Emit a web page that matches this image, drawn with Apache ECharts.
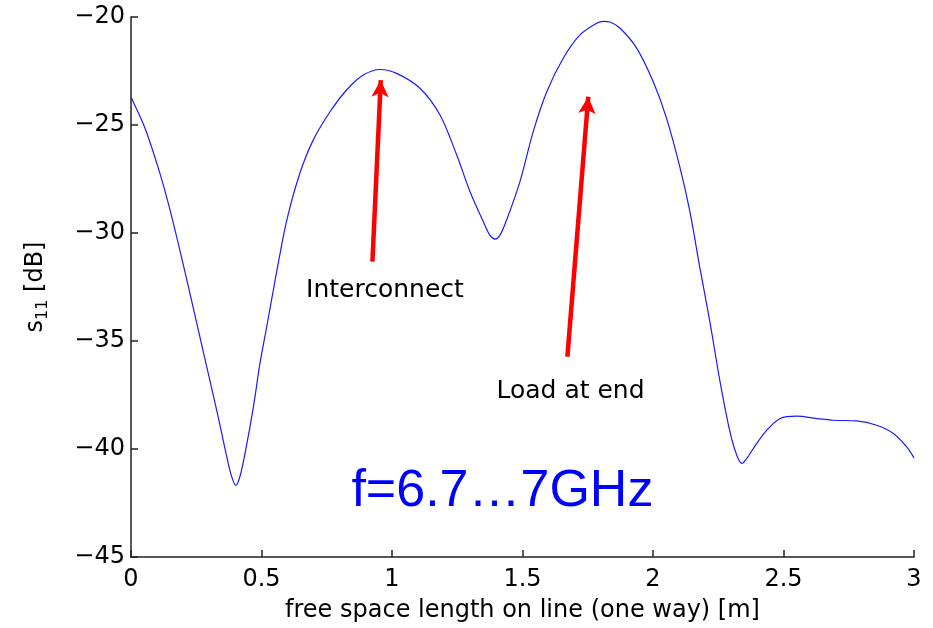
<!DOCTYPE html>
<html>
<head>
<meta charset="utf-8">
<script src="https://cdn.jsdelivr.net/npm/echarts@6/dist/echarts.min.js"></script>
<style>
  html, body { margin: 0; padding: 0; background: #ffffff; }
  #chart { width: 933px; height: 628px; }
</style>
</head>
<body>
<div id="chart"></div>
<script>
// free space length on line [m]
const lengthM = [
  0.000, 0.054, 0.105, 0.143, 0.181, 0.220, 0.258, 0.296, 0.334, 0.367, 0.386, 0.402,
  0.418, 0.437, 0.469, 0.494, 0.520, 0.558, 0.597, 0.648, 0.698, 0.762, 0.826, 0.890,
  0.954, 1.018, 1.107, 1.184, 1.248, 1.299, 1.350, 1.375, 1.395, 1.416, 1.439, 1.490,
  1.541, 1.593, 1.656, 1.720, 1.784, 1.810, 1.835, 1.874, 1.938, 2.001, 2.052, 2.103,
  2.142, 2.180, 2.218, 2.257, 2.295, 2.321, 2.341, 2.359, 2.397, 2.436, 2.487, 2.551,
  2.627, 2.691, 2.780, 2.857, 2.921, 2.972, 3.000
];
// reflection coefficient s11 [dB]
const s11dB = [
  -23.72, -25.16, -27.01, -28.63, -30.48, -32.49, -34.50, -36.50, -38.51, -40.37, -41.29, -41.68,
  -41.25, -40.20, -38.05, -36.04, -34.34, -31.80, -29.40, -27.20, -25.70, -24.40, -23.38, -22.69,
  -22.43, -22.61, -23.30, -24.54, -26.39, -28.09, -29.48, -30.10, -30.28, -30.05, -29.40, -27.63,
  -25.31, -23.46, -21.91, -20.83, -20.29, -20.20, -20.23, -20.52, -21.45, -23.00, -24.69, -26.95,
  -29.05, -31.64, -34.11, -36.89, -39.21, -40.29, -40.67, -40.44, -39.75, -39.13, -38.59, -38.48,
  -38.59, -38.67, -38.70, -38.90, -39.28, -39.90, -40.41
];

// annotation arrows: [x, dB] tail -> tip
const arrowTails = [[0.925, -31.33], [1.672, -35.73]];
const arrowTips  = [[0.957, -22.92], [1.752, -23.69]];

// annotation texts and their anchor points
const noteTexts  = ['Interconnect', 'Load at end'];
const notePoints = [[0.973, -32.64], [1.684, -37.36]];
const bandText   = 'f=6.7\u20267GHz';
const bandPoint  = [1.423, -41.99];

// axis ranges
const xRange = [0, 3, 0.5];
const yRange = [-45, -20, 5];

const FONT = 'DejaVu Sans';

const curve = lengthM.map((x, i) => [x, s11dB[i]]);

const arrowLines = arrowTails.map((t, i) => [
  { coord: t },
  { coord: arrowTips[i] }
]);

const notes = noteTexts.map((txt, i) => ({
  coord: notePoints[i],
  value: txt,
  label: {
    show: true,
    formatter: txt,
    fontFamily: FONT,
    fontSize: 25,
    color: '#000000',
    position: 'inside'
  }
}));
notes.push({
  coord: bandPoint,
  value: bandText,
  label: {
    show: true,
    formatter: bandText,
    fontFamily: 'Liberation Sans',
    fontSize: 52,
    color: '#0000ff',
    position: 'inside'
  }
});

const chart = echarts.init(document.getElementById('chart'), null, { renderer: 'canvas' });

chart.setOption({
  backgroundColor: '#ffffff',
  animation: false,
  grid: {
    left: 131, right: 19, top: 17, bottom: 71,
    containLabel: false,
    outerBoundsMode: 'none'
  },
  xAxis: {
    type: 'value',
    min: xRange[0], max: xRange[1], interval: xRange[2],
    name: 'free space length on line (one way) [m]',
    nameLocation: 'middle',
    nameGap: 42,
    nameTextStyle: { fontFamily: FONT, fontSize: 24, color: '#000000' },
    axisLine: { show: true, lineStyle: { color: '#222222', width: 1.5 } },
    axisTick: { show: true, inside: true, length: 7, lineStyle: { color: '#222222', width: 1.5 } },
    axisLabel: { fontFamily: FONT, fontSize: 24, color: '#000000', margin: 11 },
    splitLine: { show: false }
  },
  yAxis: {
    type: 'value',
    min: yRange[0], max: yRange[1], interval: yRange[2],
    name: '{a|s}{b|11}{a| [dB]}',
    nameLocation: 'middle',
    nameRotate: 90,
    nameGap: 80,
    nameTextStyle: {
      fontFamily: FONT, fontSize: 24, color: '#000000',
      rich: {
        a: { fontFamily: FONT, fontSize: 24, color: '#000000', lineHeight: 30, verticalAlign: 'middle' },
        b: { fontFamily: FONT, fontSize: 16, color: '#000000', lineHeight: 12, verticalAlign: 'bottom' }
      }
    },
    axisLine: { show: true, onZero: false, lineStyle: { color: '#222222', width: 1.5 } },
    axisTick: { show: true, inside: true, length: 7, lineStyle: { color: '#222222', width: 1.5 } },
    axisLabel: {
      fontFamily: FONT, fontSize: 24, color: '#000000', margin: 6,
      formatter: v => (v < 0 ? '\u2212' : '') + Math.abs(v)
    },
    splitLine: { show: false }
  },
  series: [{
    type: 'line',
    data: curve,
    showSymbol: false,
    smooth: 0.3,
    lineStyle: { color: '#1a1aff', width: 1.2 },
    silent: true,
    markLine: {
      silent: true,
      symbol: ['none', 'arrow'],
      symbolSize: [13, 17],
      label: { show: false },
      lineStyle: { color: '#ff0000', width: 4.5, type: 'solid' },
      emphasis: { disabled: true },
      data: arrowLines
    },
    markPoint: {
      silent: true,
      symbol: 'circle',
      symbolSize: 0,
      itemStyle: { color: 'transparent' },
      data: notes
    }
  }]
});
</script>
</body>
</html>
